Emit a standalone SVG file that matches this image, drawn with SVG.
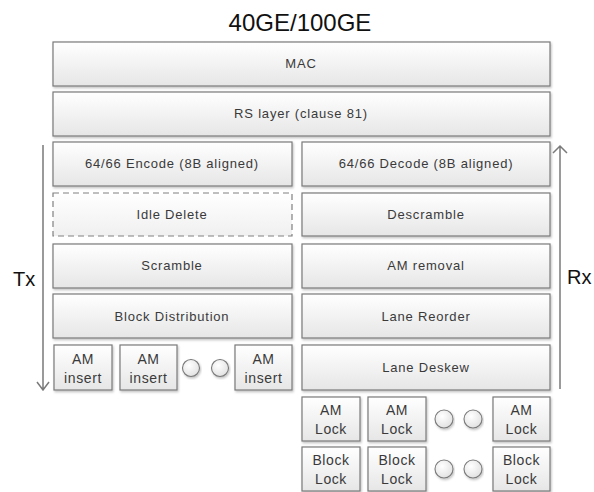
<svg xmlns="http://www.w3.org/2000/svg" width="594" height="492" viewBox="0 0 594 492">
<defs>
<linearGradient id="g" x1="0" y1="0" x2="0" y2="1">
<stop offset="0" stop-color="#ffffff"/>
<stop offset="1" stop-color="#e6e6e6"/>
</linearGradient>
<linearGradient id="gd" x1="0" y1="0" x2="0" y2="1">
<stop offset="0" stop-color="#ffffff"/>
<stop offset="1" stop-color="#f0f0f0"/>
</linearGradient>
<radialGradient id="gc" cx="0.4" cy="0.35" r="0.7">
<stop offset="0" stop-color="#ffffff"/>
<stop offset="1" stop-color="#e0e0e0"/>
</radialGradient>
<filter id="sh" x="-10%" y="-10%" width="120%" height="130%">
<feDropShadow dx="1" dy="1.5" stdDeviation="1" flood-color="#000" flood-opacity="0.25"/>
</filter>
</defs>
<style>
.b{fill:url(#g);stroke:#7a7a7a;stroke-width:1.2;filter:url(#sh)}
.d{fill:url(#gd);stroke:#808080;stroke-width:1.2;stroke-dasharray:6 4}
.c{fill:url(#gc);stroke:#7a7a7a;stroke-width:1.1;filter:url(#sh)}
.t{font-family:"Liberation Sans",Arial,sans-serif;font-size:13px;fill:#3a3a3a;text-anchor:middle;letter-spacing:0.8px}
.s{font-family:"Liberation Sans",Arial,sans-serif;font-size:14px;fill:#3a3a3a;text-anchor:middle;letter-spacing:0.6px}
.h{font-family:"Liberation Sans",Arial,sans-serif;font-size:24px;fill:#111;text-anchor:middle}
.l{font-family:"Liberation Sans",Arial,sans-serif;font-size:20px;fill:#111}
.a{stroke:#7a7a7a;stroke-width:1.5;fill:none}
</style>
<text class="h" x="300" y="31">40GE/100GE</text>
<g id="mac"><rect class="b" x="53" y="42" width="497" height="44"/><text class="t" x="301" y="68">MAC</text></g>
<g id="rs"><rect class="b" x="53" y="92" width="497" height="44"/><text class="t" x="301" y="118">RS layer (clause 81)</text></g>
<g id="encode"><rect class="b" x="53" y="142" width="239" height="44"/><text class="t" x="172" y="168">64/66 Encode (8B aligned)</text></g>
<g id="idle"><rect class="d" x="53" y="193" width="239" height="43"/><text class="t" x="172" y="219">Idle Delete</text></g>
<g id="scramble"><rect class="b" x="53" y="244" width="239" height="44"/><text class="t" x="172" y="270">Scramble</text></g>
<g id="blockdist"><rect class="b" x="53" y="294" width="239" height="44"/><text class="t" x="172" y="321">Block Distribution</text></g>
<g id="decode"><rect class="b" x="302" y="142" width="248" height="44"/><text class="t" x="426" y="168">64/66 Decode (8B aligned)</text></g>
<g id="descramble"><rect class="b" x="302" y="193" width="248" height="43"/><text class="t" x="426" y="219">Descramble</text></g>
<g id="amremoval"><rect class="b" x="302" y="244" width="248" height="44"/><text class="t" x="426" y="270">AM removal</text></g>
<g id="reorder"><rect class="b" x="302" y="294" width="248" height="44"/><text class="t" x="426" y="321">Lane Reorder</text></g>
<g id="deskew"><rect class="b" x="302" y="345" width="248" height="45"/><text class="t" x="426" y="372">Lane Deskew</text></g>
<g id="aminsert1"><rect class="b" x="54" y="345" width="58" height="45"/><text class="s" x="83" y="364">AM</text><text class="s" x="83" y="383">insert</text></g>
<g id="aminsert2"><rect class="b" x="120" y="345" width="57" height="45"/><text class="s" x="148.5" y="364">AM</text><text class="s" x="148.5" y="383">insert</text></g>
<g id="aminsert3"><rect class="b" x="235" y="345" width="57" height="45"/><text class="s" x="263.5" y="364">AM</text><text class="s" x="263.5" y="383">insert</text></g>
<g id="dots1"><circle class="c" cx="191" cy="368" r="8.5"/><circle class="c" cx="220" cy="368" r="8.5"/></g>
<g id="amlock1"><rect class="b" x="302" y="397" width="58" height="44"/><text class="s" x="331" y="415">AM</text><text class="s" x="331" y="434">Lock</text></g>
<g id="amlock2"><rect class="b" x="368" y="397" width="58" height="44"/><text class="s" x="397" y="415">AM</text><text class="s" x="397" y="434">Lock</text></g>
<g id="amlock3"><rect class="b" x="493" y="397" width="57" height="44"/><text class="s" x="521.5" y="415">AM</text><text class="s" x="521.5" y="434">Lock</text></g>
<g id="dots2"><circle class="c" cx="444" cy="419" r="9"/><circle class="c" cx="473" cy="419" r="9"/></g>
<g id="blocklock1"><rect class="b" x="302" y="447" width="58" height="44"/><text class="s" x="331" y="465">Block</text><text class="s" x="331" y="484">Lock</text></g>
<g id="blocklock2"><rect class="b" x="368" y="447" width="58" height="44"/><text class="s" x="397" y="465">Block</text><text class="s" x="397" y="484">Lock</text></g>
<g id="blocklock3"><rect class="b" x="493" y="447" width="57" height="44"/><text class="s" x="521.5" y="465">Block</text><text class="s" x="521.5" y="484">Lock</text></g>
<g id="dots3"><circle class="c" cx="444" cy="469" r="9"/><circle class="c" cx="473" cy="469" r="9"/></g>
<g id="connectors">
<path class="a" d="M43 145 V390 M37 382 L43 390 L49 382"/>
<path class="a" d="M560 389 V146 M553 153 L560 146 L567 153"/>
</g>
<text class="l" x="13" y="286">Tx</text>
<text class="l" x="567" y="284">Rx</text>
</svg>
